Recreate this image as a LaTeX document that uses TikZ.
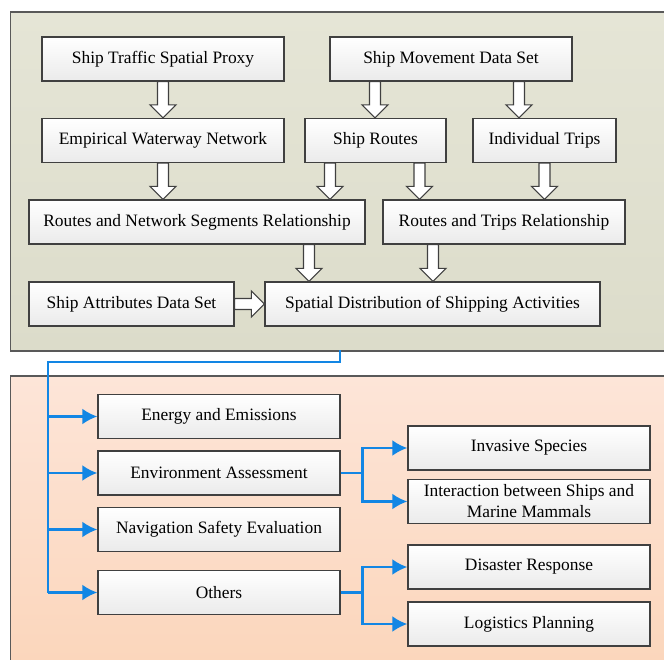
\documentclass[tikz,border=0pt]{standalone}
\usepackage{fontspec}
\setmainfont{Liberation Serif}
\usepackage{tikz}
\usetikzlibrary{arrows.meta,calc,positioning}
\tikzset{>=latex}
\definecolor{panelgray}{RGB}{229,229,214}
\definecolor{paneltan}{RGB}{220,220,202}
\definecolor{peachtop}{RGB}{253,229,216}
\definecolor{peachbot}{RGB}{251,212,184}
\definecolor{linkblue}{RGB}{18,134,228}
\definecolor{boxline}{RGB}{64,64,64}
\tikzset{
  box/.style={draw=boxline, line width=1.3pt, rectangle, top color=white, bottom color=gray!16,
    minimum height=44pt, inner sep=0pt, align=center, font=\fontsize{17.4}{21}\selectfont},
  panel/.style={draw=gray!70!black, line width=1.3pt},
  fatarrow/.style={draw=boxline, line width=1.1pt, fill=white, line join=miter},
  bluearrow/.style={draw=linkblue, line width=2.6pt, -{Latex[length=15pt,width=16pt]}},
  blueline/.style={draw=linkblue, line width=2.6pt}
}
% hollow block arrows between boxes
\newcommand{\fatdown}[3]{%
  \draw[fatarrow] let \p1=(#1,0 |- #2.south), \p2=(#1,0 |- #3.north) in
    (\x1-5.5pt,\y1) -- (\x1-5.5pt,\y2+13pt) -- (\x1-13pt,\y2+13pt) -- (\x1,\y2)
    -- (\x1+13pt,\y2+13pt) -- (\x1+5.5pt,\y2+13pt) -- (\x1+5.5pt,\y1) -- cycle;}
\newcommand{\fatright}[2]{%
  \draw[fatarrow] let \p1=(#1.east), \p2=(#2.west) in
    (\x1,\y1+5.5pt) -- (\x2-13pt,\y1+5.5pt) -- (\x2-13pt,\y1+13pt) -- (\x2,\y1)
    -- (\x2-13pt,\y1-13pt) -- (\x2-13pt,\y1-5.5pt) -- (\x1,\y1-5.5pt) -- cycle;}

\begin{document}
\begin{tikzpicture}[x=1pt, y=-1pt]
    \clip (0,0) rectangle (664,659);
    % panels
    \draw[panel, top color=panelgray, bottom color=paneltan] (10.6,12) rectangle (690,351);
    \draw[panel, top color=peachtop, bottom color=peachbot] (10.6,376) rectangle (690,700);

    % upper part
    \node[box, minimum width=242pt] (proxy) at (163,59) {Ship Traffic Spatial Proxy};
    \node[box, minimum width=242pt] (movement) at (451,59) {Ship Movement Data Set};
    \node[box, minimum width=242pt] (network) at (163,140.5) {Empirical Waterway Network};
    \node[box, minimum width=141pt] (routes) at (375.5,140.5) {Ship Routes};
    \node[box, minimum width=143pt] (trips) at (544.5,140.5) {Individual Trips};
    \node[box, minimum width=336pt] (segrel) at (197,222) {Routes and Network Segments Relationship};
    \node[box, minimum width=242pt] (triprel) at (504,222) {Routes and Trips Relationship};
    \node[box, minimum width=205pt] (attrib) at (131.5,304) {Ship Attributes Data Set};
    \node[box, minimum width=335pt] (distrib) at (432.5,304) {Spatial Distribution of Shipping Activities};

    \fatdown{163}{proxy}{network}
    \fatdown{375}{movement}{routes}
    \fatdown{519}{movement}{trips}
    \fatdown{163}{network}{segrel}
    \fatdown{330}{routes}{segrel}
    \fatdown{419.5}{routes}{triprel}
    \fatdown{544.5}{trips}{triprel}
    \fatdown{309}{segrel}{distrib}
    \fatdown{433}{triprel}{distrib}
    \fatright{attrib}{distrib}

    % lower part
    \node[box, minimum width=242pt] (energy) at (219,416.5) {Energy and Emissions};
    \node[box, minimum width=242pt] (envir) at (219,473) {Environment Assessment};
    \node[box, minimum width=242pt] (safety) at (219,529.5) {Navigation Safety Evaluation};
    \node[box, minimum width=242pt] (others) at (219,592.5) {Others};
    \node[box, minimum width=242pt] (invasive) at (529,448) {Invasive Species};
    \node[box, minimum width=242pt] (mammals) at (529,501.5) {Interaction between Ships and\\Marine Mammals};
    \node[box, minimum width=242pt] (disaster) at (529,567) {Disaster Response};
    \node[box, minimum width=242pt] (logistics) at (529,624) {Logistics Planning};

    \coordinate (tap) at (340,350);
    \coordinate (trunk) at (48,362);
    \draw[blueline] (tap) |- (trunk) -- (trunk |- others.west);
    \foreach \n in {energy,envir,safety,others}
      \draw[bluearrow] (trunk |- \n.west) -- (\n.west);
    \draw[bluearrow] (envir.east) -- ++(22,0) |- (invasive.west);
    \draw[bluearrow] (envir.east) -- ++(22,0) |- (mammals.west);
    \draw[bluearrow] (others.east) -- ++(22,0) |- (disaster.west);
    \draw[bluearrow] (others.east) -- ++(22,0) |- (logistics.west);
\end{tikzpicture}
\end{document}
